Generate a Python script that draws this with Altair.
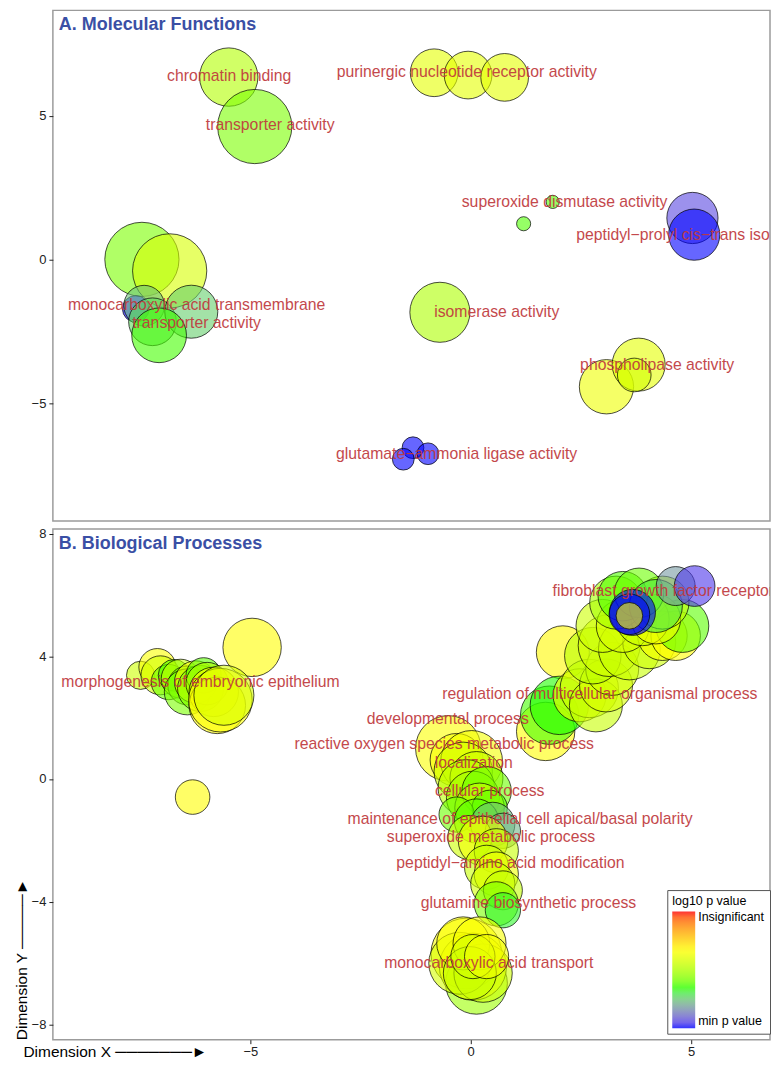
import altair as alt
import pandas as pd

# ---------------- Panel A: Molecular Functions ----------------
mf_x = [-5.49, -4.90, -7.46, -6.83, -7.60, -7.41, -7.22, -6.34, -7.07, -0.83, -0.06, 0.77,
        1.86, 1.20, 5.03, 5.07, -0.70, 3.08, 3.81, 3.71, -1.31, -1.53, -0.97]
mf_y = [6.34, 4.62, 0.00, -0.40, -1.72, -1.61, -2.17, -1.82, -2.64, 6.49, 6.41, 6.33,
        2.00, 1.24, 1.44, 0.86, -1.84, -4.43, -3.66, -4.02, -6.55, -6.95, -6.76]
mf_size = [2.74, 4.43, 4.43, 4.43, 0.57, 1.33, 1.83, 2.26, 2.41, 1.83, 1.83, 1.83,
           0.14, 0.16, 2.11, 2.11, 2.90, 2.37, 2.26, 0.91, 0.38, 0.38, 0.38]
mf_logp = [-4.9, -5.8, -5.8, -4.2, -10.0, -7.6, -7.2, -7.4, -6.4, -3.9, -3.9, -3.9,
           -6.3, -6.3, -9.4, -10.0, -5.0, -3.7, -3.9, -4.3, -10.0, -10.0, -10.0]

mf_label_text = ["chromatin binding", "transporter activity",
                 "purinergic nucleotide receptor activity", "superoxide dismutase activity",
                 "peptidyl\u2212prolyl cis\u2212trans isomerase activity",
                 "monocarboxylic acid transmembrane\ntransporter activity",
                 "isomerase activity", "phospholipase activity",
                 "glutamate\u2212ammonia ligase activity"]
mf_label_x = [-5.48, -4.55, -0.09, 2.13, 5.78, -6.22, 0.59, 4.23, -0.32]
mf_label_y = [6.38, 4.66, 6.52, 2.00, 0.86, -1.59, -1.83, -3.66, -6.76]

# ---------------- Panel B: Biological Processes ----------------
bp_x = [-4.96, -7.49, -7.11, -7.04, -6.85, -6.73, -6.58, -6.43, -6.43, -6.24, -6.13, -6.06,
        -5.98, -5.83, -5.75, -5.68, -5.60, -6.31,
        2.09, 1.70, 1.79, 2.01, 2.47, 2.69, 2.84, 3.07, 3.21, 2.77, 3.14, 3.60, 4.05, 4.35,
        4.65, 4.80, 2.99, 3.45, 3.90, 4.20, 3.30, 4.35, 3.45, 3.82, 4.20, 4.65, 5.08, 3.67,
        3.60, 3.60,
        -0.51, -0.32, 0.02, -0.17, 0.13, -0.10, 0.05, 0.36, 0.20, 0.43, -0.32, 0.13, 0.50,
        0.73, -0.02, 0.28, 0.58, 0.36, 0.58, 0.50, 0.73, 0.58, 0.73,
        -0.10, 0.13, 0.05, -0.25, 0.28, -0.17, 0.20, -0.02, 0.05, 0.36]
bp_y = [4.29, 3.38, 3.65, 3.38, 3.16, 3.38, 3.27, 3.05, 2.84, 3.16, 2.95, 3.38,
        3.11, 2.84, 2.40, 2.57, 2.73, -0.59,
        4.13, 1.55, 2.08, 2.40, 2.73, 2.95, 2.40, 3.05, 3.59, 4.02, 4.35, 4.24, 4.46, 4.67,
        4.67, 4.99, 4.99, 4.99, 5.21, 5.21, 5.75, 5.75, 5.96, 6.07, 5.64, 6.29, 6.29, 5.43,
        5.37, 5.32,
        1.00, 0.62, 0.57, 0.25, 0.03, -0.29, -0.61, -0.40, -0.94, -0.94, -1.16, -1.37, -1.48,
        -1.69, -1.91, -2.02, -2.34, -2.88, -3.10, -3.42, -3.63, -4.07, -4.28,
        -5.69, -6.66, -6.12, -6.01, -6.33, -5.36, -5.36, -6.33, -5.79, -5.79]
bp_size = [2.74, 0.64, 1.10, 1.22, 1.00, 0.81, 1.22, 1.22, 1.70, 1.45, 1.70, 1.00,
           1.45, 1.97, 2.57, 3.26, 2.90, 0.96,
           2.26, 2.74, 2.74, 2.74, 2.26, 2.74, 2.26, 2.26, 2.26, 2.57, 3.08, 3.08, 2.26, 1.97,
           1.97, 2.26, 2.26, 2.26, 2.26, 1.97, 2.26, 2.26, 1.97, 1.97, 2.26, 1.22, 1.33, 1.70,
           1.33, 0.57,
           3.44, 2.26, 3.08, 2.74, 2.26, 2.57, 2.26, 1.97, 1.97, 1.00, 1.00, 1.57, 1.57,
           1.00, 1.57, 1.97, 1.57, 1.57, 1.57, 1.57, 1.22, 1.57, 1.00,
           4.02, 3.08, 3.63, 3.08, 2.74, 2.26, 2.26, 2.26, 1.57, 1.57]
bp_logp = [-3.3, -4.4, -3.4, -4.3, -6.0, -6.3, -4.6, -6.0, -5.8, -3.6, -5.6, -6.2,
           -5.0, -3.5, -3.3, -3.4, -4.2, -3.3,
           -3.2, -3.3, -6.4, -6.6, -3.6, -4.4, -4.5, -4.2, -4.3, -4.8, -4.3, -4.5, -4.4, -3.5,
           -3.3, -6.2, -4.4, -4.2, -4.5, -3.6, -5.2, -4.6, -6.3, -6.0, -7.0, -8.2, -9.6, -10.0,
           -10.0, -3.3,
           -3.4, -3.5, -3.6, -4.3, -4.4, -4.8, -5.2, -6.0, -4.5, -6.2, -6.0, -6.2, -7.6,
           -7.8, -4.4, -3.6, -4.5, -4.5, -3.7, -4.3, -4.6, -5.8, -6.8,
           -3.4, -5.3, -3.6, -4.2, -4.4, -3.4, -3.5, -4.5, -4.3, -3.6]

bp_label_text = ["fibroblast growth factor receptor signaling pathway",
                 "morphogenesis of embryonic epithelium",
                 "regulation of multicellular organismal process",
                 "developmental process",
                 "reactive oxygen species metabolic process",
                 "localization", "cellular process",
                 "maintenance of epithelial cell apical/basal polarity",
                 "superoxide metabolic process",
                 "peptidyl\u2212amino acid modification",
                 "glutamine biosynthetic process",
                 "monocarboxylic acid transport"]
bp_label_x = [5.84, -6.13, 2.93, -0.52, -0.60, 0.07, 0.43, 1.12, 0.46, 0.90, 1.31, 0.41]
bp_label_y = [6.13, 3.17, 2.78, 1.97, 1.13, 0.52, -0.39, -1.29, -1.88, -2.75, -4.05, -5.99]

panel_titles = ["A. Molecular Functions", "B. Biological Processes"]

# ---------------- scales / settings ----------------
X_DOMAIN = [-9.48, 6.79]
MF_Y_DOMAIN = [-9.1, 8.66]
BP_Y_DOMAIN = [-8.5, 8.15]
P_MIN = -10.0

FONT = "Liberation Sans"
LABEL_COLOR = "#c0393d"
TITLE_COLOR = "#3a4fa5"
PANEL_W = 719
PANEL_H = 512

mf_df = pd.DataFrame({"x": mf_x, "y": mf_y, "size": mf_size, "logp": mf_logp})
mf_lab = pd.DataFrame({"x": mf_label_x, "y": mf_label_y, "label": mf_label_text})
bp_df = pd.DataFrame({"x": bp_x, "y": bp_y, "size": bp_size, "logp": bp_logp})
bp_lab = pd.DataFrame({"x": bp_label_x, "y": bp_label_y, "label": bp_label_text})

color_scale = alt.Scale(domain=[P_MIN, P_MIN * 2 / 3, P_MIN / 3, 0],
                        range=["#0000ff", "#00ff00", "#ffff00", "#ff0000"],
                        interpolate="lab")
size_scale = alt.Scale(type="linear", domain=[0, 5], range=[0, 6250])

legend = alt.Legend(title="log10 p value", orient="none", legendX=616, legendY=882,
                    direction="vertical", values=[P_MIN, 0],
                    labelExpr="datum.value >= 0 ? 'Insignificant' : 'min p value'",
                    gradientLength=117, gradientThickness=23, gradientOpacity=0.8,
                    gradientStrokeWidth=0,
                    padding=5, strokeColor="#555555", fillColor="white",
                    titleFont=FONT, titleFontSize=12.5, titleFontWeight="normal",
                    titleColor="black", titlePadding=4,
                    labelFont=FONT, labelFontSize=12.5, labelColor="black", labelOffset=3)


def panel(df, lab, ydom, yticks, title, x_axis, y_axis_extra):
    x_enc = alt.X("x:Q", scale=alt.Scale(domain=X_DOMAIN, nice=False, zero=False),
                  axis=x_axis)
    y_axis = alt.Axis(values=yticks, minExtent=44, maxExtent=44, grid=False, domain=False,
                      tickSize=4, tickColor="#222222", labelColor="#222222",
                      labelFont=FONT, labelFontSize=13, labelPadding=3, **y_axis_extra)
    y_enc = alt.Y("y:Q", scale=alt.Scale(domain=ydom, nice=False, zero=False), axis=y_axis)
    pts = alt.Chart(df).mark_circle(
        fillOpacity=0.6, stroke="black", strokeOpacity=0.7, strokeWidth=1, clip=True
    ).encode(
        x=x_enc, y=y_enc,
        size=alt.Size("size:Q", scale=size_scale, legend=None),
        color=alt.Color("logp:Q", scale=color_scale, legend=legend),
    )
    txt = alt.Chart(lab).mark_text(
        font=FONT, fontSize=15.8, color=LABEL_COLOR, opacity=0.92, clip=True,
        lineBreak="\n", baseline="middle", align="center"
    ).encode(x=alt.X("x:Q"), y=alt.Y("y:Q"), text="label:N")
    head = alt.Chart(pd.DataFrame({"t": [title]})).mark_text(
        font=FONT, fontSize=18, fontWeight="bold", color=TITLE_COLOR,
        align="left", baseline="alphabetic"
    ).encode(x=alt.value(6), y=alt.value(20), text="t:N")
    return alt.layer(pts, txt, head).properties(width=PANEL_W, height=PANEL_H)


top = panel(mf_df, mf_lab, MF_Y_DOMAIN, [-5, 0, 5], panel_titles[0], None, {"title": None})

x_axis_b = alt.Axis(values=[-5, 0, 5], grid=False, domain=False, tickSize=4,
                    tickColor="#222222", labelColor="#222222", labelFont=FONT,
                    labelFontSize=13, labelPadding=2,
                    title="Dimension X  \u2500\u2500\u2500\u2500\u2500\u2500\u2500\u25ba",
                    titleX=-30, titleY=17, titleAlign="left", titleBaseline="alphabetic",
                    titleFont=FONT, titleFontSize=15.5, titleFontWeight="normal",
                    titleColor="black")
bottom = panel(bp_df, bp_lab, BP_Y_DOMAIN, [-8, -4, 0, 4, 8], panel_titles[1],
               x_axis_b,
               {"title": "Dimension Y  \u2500\u2500\u2500\u2500\u2500\u25ba",
                "titleAngle": 270, "titleX": -26, "titleY": PANEL_H, "titleAlign": "left",
                "titleBaseline": "alphabetic", "titleFont": FONT, "titleFontSize": 15.5,
                "titleFontWeight": "normal", "titleColor": "black"})

chart = alt.vconcat(top, bottom, spacing=4).resolve_scale(
    x="shared", y="independent", color="shared", size="shared"
).properties(
    padding=0, background="white"
).configure_view(stroke="#9b9b9b", strokeWidth=1.5)

chart.save("out.html", embed_options={"renderer": "svg", "actions": False})
